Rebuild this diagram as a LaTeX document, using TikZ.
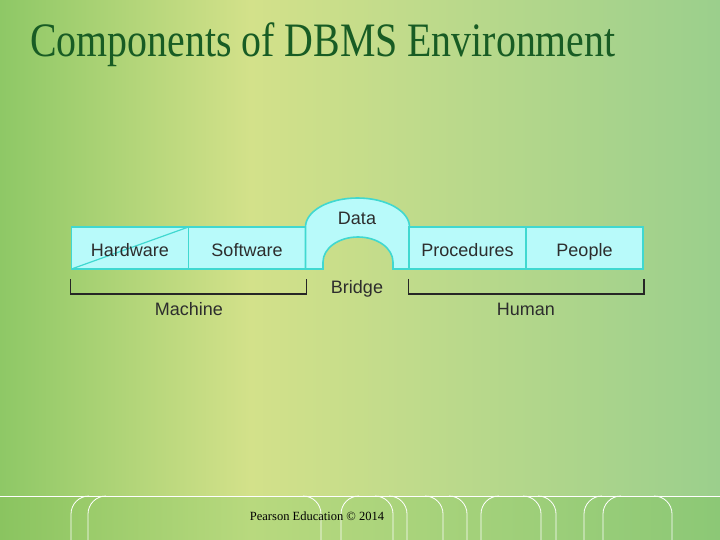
\documentclass[tikz,border=0pt]{standalone}
\usepackage{fontspec}
\setmainfont{Liberation Serif}
\newfontfamily\boxfont{Liberation Sans}
\definecolor{bgleft}{RGB}{142,200,102}
\definecolor{bgmid}{RGB}{211,225,138}
\definecolor{bgright}{RGB}{155,207,140}
\definecolor{ftleft}{RGB}{138,196,96}
\definecolor{ftmid}{RGB}{184,217,126}
\definecolor{ftright}{RGB}{140,200,118}
\definecolor{titlegreen}{RGB}{24,92,36}
\definecolor{boxfill}{RGB}{184,250,250}
\definecolor{boxline}{RGB}{64,216,208}
\definecolor{labelgray}{RGB}{45,45,45}
\begin{document}
\begin{tikzpicture}[
    x=1pt, y=-1pt,
    box/.style={draw=boxline,line width=1.6pt,fill=boxfill,
        minimum width=117pt,minimum height=42pt,inner sep=0pt,
        text height=16pt,text depth=0pt,
        font=\boxfont\fontsize{18}{20}\selectfont,text=labelgray},
    lbl/.style={inner sep=0pt,text height=16pt,text depth=0pt,
        font=\boxfont\fontsize{18}{20}\selectfont,text=labelgray},
    brace/.style={line width=1.4pt,black!85},
    deco/.style={white,line width=0.8pt}]
    \useasboundingbox (0,0) rectangle (720,540);
    % background
    \shade[left color=bgleft,right color=bgmid] (0,0) rectangle (250.5,496);
    \shade[left color=bgmid,right color=bgright] (250,0) rectangle (720,496);
    \shade[left color=ftleft,right color=ftmid] (0,496) rectangle (250.5,540);
    \shade[left color=ftmid,right color=ftright] (250,496) rectangle (720,540);
    \node[anchor=base west,xscale=.83,inner sep=0pt,text=titlegreen,
        font=\fontsize{48}{52}\selectfont] (title) at (30,57)
        {Components of DBMS Environment};
    % machine side
    \node[box,path picture={\draw[boxline,line width=1.2pt]
        (path picture bounding box.south west) --
        (path picture bounding box.north east);}] (hw) at (130,248) {Hardware};
    \node[box] (sw) at (247,248) {Software};
    % bridge
    \filldraw[draw=boxline,fill=boxfill,line width=1.6pt]
        (305.5,269) -- (305.5,227)
        arc[start angle=180,end angle=360,x radius=52,y radius=29]
        -- (409.5,269) -- (393,269) -- (393,262)
        arc[start angle=0,end angle=-180,x radius=35,y radius=25]
        -- (323,269) -- cycle;
    \node[lbl] (data) at (357,217) {Data};
    % human side
    \node[box] (pr) at (467.5,248) {Procedures};
    \node[box] (pe) at (584.5,248) {People};
    % brackets
    \draw[brace] ([yshift=-9pt]hw.south west) |- ([yshift=-24pt]sw.south east)
        -- ([yshift=-9pt]sw.south east);
    \draw[brace] ([yshift=-9pt]pr.south west) |- ([yshift=-24pt]pe.south east)
        -- ([yshift=-9pt]pe.south east);
    \node[lbl] (machine) at (189,307) {Machine};
    \node[lbl] (bridge) at (357,285) {Bridge};
    \node[lbl] (human) at (526,307) {Human};
    % footer
    \draw[white,line width=1pt] (0,496) -- (720,496);
    \foreach \x in {71,88,341,481,584,603}
        \draw[deco] (\x,540) -- (\x,514) arc[start angle=180,end angle=270,radius=18];
    \foreach \x in {321,393,407,443,467,541,556,672}
        \draw[deco] (\x,540) -- (\x,514) arc[start angle=0,end angle=-90,radius=18];
    \node[font=\fontsize{12.5}{14}\selectfont] (credit) at (317,516)
        {Pearson Education © 2014};
\end{tikzpicture}
\end{document}
